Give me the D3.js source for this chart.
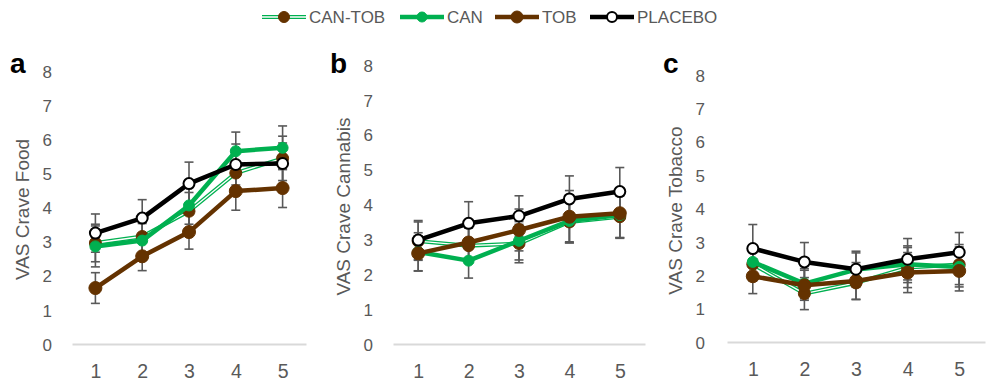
<!DOCTYPE html>
<html>
<head>
<meta charset="utf-8">
<script src="https://cdn.jsdelivr.net/npm/d3@7"></script>
<style>
  body { margin: 0; background: #fff; }
  svg { display: block; font-family: "Liberation Sans", Arial, sans-serif; }
</style>
</head>
<body>
<div id="chart"></div>
<script>
// Sessions on the x axis, VAS ticks on the y axis
const sessions = [1, 2, 3, 4, 5];
const yTicks = [0, 1, 2, 3, 4, 5, 6, 7, 8];
const seriesNames = ["CAN-TOB", "CAN", "TOB", "PLACEBO"];

// a: VAS Crave Food
const foodCanTob = [2.96, 3.15, 3.89, 5.01, 5.44];
const foodCan = [2.86, 3.03, 4.06, 5.65, 5.75];
const foodTob = [1.64, 2.57, 3.28, 4.48, 4.57];
const foodPlacebo = [3.25, 3.69, 4.70, 5.26, 5.29];
const foodErrCanTob = [0.55, 0.50, 0.55, 0.60, 0.65];
const foodErrCan = [0.60, 0.50, 0.55, 0.56, 0.64];
const foodErrTob = [0.45, 0.42, 0.50, 0.56, 0.57];
const foodErrPlacebo = [0.56, 0.54, 0.63, 0.60, 0.60];

// b: VAS Crave Cannabis
const cannabisCanTob = [2.95, 2.82, 2.88, 3.50, 3.65];
const cannabisCan = [2.64, 2.39, 2.96, 3.53, 3.70];
const cannabisTob = [2.60, 2.91, 3.27, 3.65, 3.75];
const cannabisPlacebo = [2.98, 3.46, 3.67, 4.16, 4.37];
const cannabisErrCanTob = [0.55, 0.50, 0.55, 0.60, 0.60];
const cannabisErrCan = [0.55, 0.50, 0.55, 0.60, 0.65];
const cannabisErrTob = [0.50, 0.50, 0.60, 0.75, 0.72];
const cannabisErrPlacebo = [0.56, 0.62, 0.58, 0.66, 0.69];

// c: VAS Crave Tobacco
const tobaccoCanTob = [2.33, 1.45, 1.77, 2.23, 2.32];
const tobaccoCan = [2.40, 1.75, 2.17, 2.33, 2.25];
const tobaccoTob = [1.97, 1.70, 1.83, 2.08, 2.13];
const tobaccoPlacebo = [2.80, 2.40, 2.18, 2.48, 2.69];
const tobaccoErrCanTob = [0.50, 0.48, 0.50, 0.60, 0.60];
const tobaccoErrCan = [0.50, 0.45, 0.50, 0.55, 0.60];
const tobaccoErrTob = [0.52, 0.45, 0.55, 0.60, 0.60];
const tobaccoErrPlacebo = [0.72, 0.58, 0.54, 0.62, 0.59];

const green = "#00b050", brown = "#643200", grey = "#595959";

// how each series is drawn
const styles = {
  "CAN-TOB": { line: green, inner: "#fff", width: 4, marker: brown, stroke: brown, r: 6 },
  "CAN":     { line: green, width: 4.5, marker: green, stroke: green, r: 5.5 },
  "TOB":     { line: brown, width: 4.5, marker: brown, stroke: brown, r: 6.5 },
  "PLACEBO": { line: "#000", width: 4.5, marker: "#fff", stroke: "#000", r: 5.5 }
};

const panels = [
  { letter: "a", title: "VAS Crave Food",
    values: [foodCanTob, foodCan, foodTob, foodPlacebo],
    errors: [foodErrCanTob, foodErrCan, foodErrTob, foodErrPlacebo],
    x0: 72, x1: 306, y0: 344, y8: 71, tickX: 52, titleX: 22.5, letterX: 10 },
  { letter: "b", title: "VAS Crave Cannabis",
    values: [cannabisCanTob, cannabisCan, cannabisTob, cannabisPlacebo],
    errors: [cannabisErrCanTob, cannabisErrCan, cannabisErrTob, cannabisErrPlacebo],
    x0: 393, x1: 645, y0: 344, y8: 65, tickX: 373, titleX: 343.5, letterX: 330 },
  { letter: "c", title: "VAS Crave Tobacco",
    values: [tobaccoCanTob, tobaccoCan, tobaccoTob, tobaccoPlacebo],
    errors: [tobaccoErrCanTob, tobaccoErrCan, tobaccoErrTob, tobaccoErrPlacebo],
    x0: 727, x1: 985, y0: 342, y8: 75, tickX: 705, titleX: 675, letterX: 663 }
];

const svg = d3.select("#chart").append("svg")
    .attr("width", 987)
    .attr("height", 381);

panels.forEach(p => {
  let g = svg.append("g");

  let x = d3.scalePoint().domain(sessions).range([p.x0, p.x1]).padding(0.5);
  let y = d3.scaleLinear().domain([0, 8]).range([p.y0, p.y8]);

  // x axis: light baseline and big labels
  let xAxis = g.append("g")
      .attr("transform", "translate(0," + p.y0 + ")")
      .call(d3.axisBottom(x).tickSize(0).tickSizeOuter(0));
  xAxis.select(".domain").attr("stroke", "#d9d9d9").attr("stroke-width", 2);
  xAxis.selectAll("text")
      .attr("y", 34).attr("dy", 0)
      .attr("fill", grey)
      .style("font-size", "19.5px");

  // y axis labels only
  let yAxis = g.append("g")
      .attr("transform", "translate(" + p.tickX + ",0)")
      .call(d3.axisLeft(y).tickValues(yTicks).tickSize(0).tickPadding(0));
  yAxis.select(".domain").remove();
  yAxis.selectAll("text")
      .attr("dy", "0.36em")
      .attr("fill", grey)
      .style("font-size", "17px");

  g.append("text")
      .attr("transform", "translate(" + p.titleX + "," + ((p.y0 + p.y8) / 2 + 2) + ") rotate(-90)")
      .attr("text-anchor", "middle")
      .attr("dy", "0.36em")
      .attr("fill", grey)
      .style("font-size", "19px")
      .text(p.title);

  g.append("text")
      .attr("x", p.letterX)
      .attr("y", 73)
      .attr("font-weight", "bold")
      .attr("fill", "#000")
      .style("font-size", "28px")
      .text(p.letter);

  // error bars first, behind the lines
  p.values.forEach((vals, si) => {
    let errs = p.errors[si];
    let eb = g.append("g").attr("stroke", grey).attr("stroke-width", 1.6);
    vals.forEach((v, i) => {
      let cx = x(sessions[i]);
      eb.append("line").attr("x1", cx).attr("x2", cx)
          .attr("y1", y(v - errs[i])).attr("y2", y(v + errs[i]));
      [v - errs[i], v + errs[i]].forEach(e => {
        eb.append("line").attr("x1", cx - 4.5).attr("x2", cx + 4.5)
            .attr("y1", y(e)).attr("y2", y(e));
      });
    });
  });

  let line = d3.line().x((d, i) => x(sessions[i])).y(d => y(d));

  p.values.forEach((vals, si) => {
    let s = styles[seriesNames[si]];
    g.append("path").datum(vals)
        .attr("d", line)
        .attr("fill", "none")
        .attr("stroke", s.line)
        .attr("stroke-width", s.width)
        .attr("stroke-linejoin", "round");
    if (s.inner) {
      g.append("path").datum(vals)
          .attr("d", line)
          .attr("fill", "none")
          .attr("stroke", s.inner)
          .attr("stroke-width", 1.4)
          .attr("stroke-linejoin", "round");
    }
    g.selectAll(null).data(vals).enter().append("circle")
        .attr("cx", (d, i) => x(sessions[i]))
        .attr("cy", d => y(d))
        .attr("r", s.r)
        .attr("fill", s.marker)
        .attr("stroke", s.stroke)
        .attr("stroke-width", seriesNames[si] == "PLACEBO" ? 2 : 1);
  });
});

// legend along the top
const legendX = [262, 400, 495, 590];
const legend = svg.append("g");
seriesNames.forEach((name, i) => {
  let s = styles[name];
  let lx = legendX[i];
  let item = legend.append("g").attr("transform", "translate(" + lx + ",17)");
  item.append("line").attr("x1", 0).attr("x2", 44)
      .attr("stroke", s.line).attr("stroke-width", s.width);
  if (s.inner) {
    item.append("line").attr("x1", 0).attr("x2", 44)
        .attr("stroke", s.inner).attr("stroke-width", 1.4);
  }
  item.append("circle").attr("cx", 22).attr("r", s.r - 0.5)
      .attr("fill", s.marker).attr("stroke", s.stroke)
      .attr("stroke-width", name == "PLACEBO" ? 2 : 1);
  item.append("text")
      .attr("x", 47)
      .attr("dy", "0.36em")
      .attr("fill", grey)
      .style("font-size", "17px")
      .text(name);
});
</script>
</body>
</html>
